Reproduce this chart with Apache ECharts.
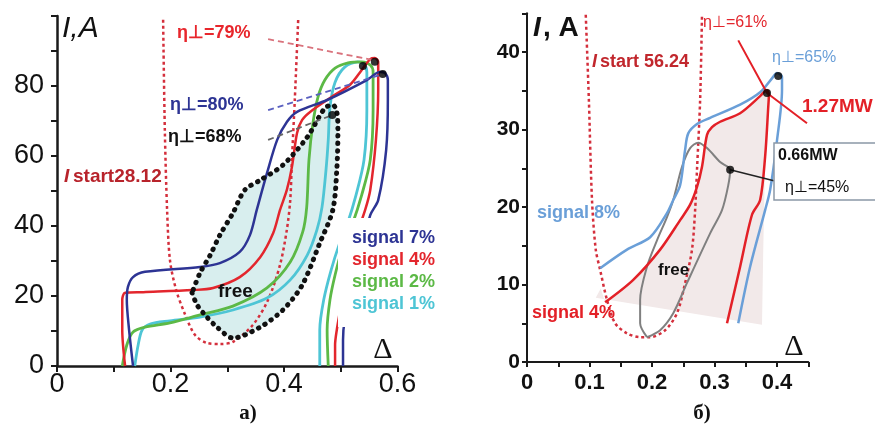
<!DOCTYPE html>
<html><head><meta charset="utf-8">
<script src="https://cdn.jsdelivr.net/npm/echarts@6/dist/echarts.min.js"></script>
<style>html,body{margin:0;padding:0;background:#fff}#c{width:875px;height:428px}</style>
</head><body><div id="c"></div>
<script>
// ---------- Panel a) ----------
const aXTickLabels = ['0', '0.2', '0.4', '0.6'];
const aYTickLabels = ['0', '20', '40', '60', '80'];
const aIstart = [[0.187,98.9],[0.190,67.4],[0.194,44.6],[0.199,30.3],[0.210,21.7],[0.226,14.6],[0.243,8.9],[0.264,6.6],[0.287,6.3],[0.310,6.9],[0.345,11.7],[0.372,18.9],[0.393,28.9],[0.405,38.9],[0.411,47.4],[0.414,58.9],[0.419,76],[0.425,98.9]];
const aSignal7 = [[0.134,0],[0.127,10.3],[0.123,18.9],[0.125,22.6],[0.134,25.4],[0.155,26.9],[0.252,28.3],[0.287,29.4],[0.322,32.6],[0.340,37.4],[0.352,44.6],[0.370,55.1],[0.388,64.6],[0.405,69.7],[0.423,72.6],[0.476,76.0],[0.546,81.7],[0.569,84.0],[0.578,83.7],[0.583,81.7],[0.583,76.0],[0.580,61.7],[0.566,47.4],[0.552,43.1],[0.537,33.1],[0.520,21.7],[0.507,13.1],[0.504,7.4],[0.504,0]];
const aSignal4 = [[0.120,0],[0.115,10.3],[0.115,18.9],[0.120,20.9],[0.152,21.1],[0.240,21.7],[0.275,22.3],[0.322,25.4],[0.358,31.1],[0.381,38.0],[0.393,44.6],[0.405,50.3],[0.414,56.9],[0.423,66.6],[0.432,70.3],[0.446,72.6],[0.486,77.1],[0.516,80.3],[0.537,84.6],[0.552,87.7],[0.560,88.0],[0.566,86.9],[0.566,78.9],[0.562,64.6],[0.552,50.3],[0.543,44.6],[0.525,36.0],[0.511,27.4],[0.499,16.0],[0.493,10.3],[0.490,6.0],[0.490,0]];
const aSignal2 = [[0.115,0],[0.123,6.0],[0.134,9.7],[0.155,11.1],[0.199,12.3],[0.252,14.6],[0.310,17.1],[0.370,22.3],[0.411,29.7],[0.433,38.3],[0.440,45.4],[0.444,58.9],[0.451,69.4],[0.460,76.9],[0.472,81.7],[0.490,85.1],[0.513,86.6],[0.537,86.9],[0.552,86.0],[0.557,84.0],[0.557,73.1],[0.552,58.9],[0.537,48.9],[0.520,40.3],[0.502,33.1],[0.490,26.0],[0.481,18.9],[0.476,10.3],[0.478,0]];
const aSignal1 = [[0.137,0],[0.143,6.0],[0.150,10.3],[0.164,12.0],[0.199,12.9],[0.252,14.0],[0.310,16.0],[0.370,19.4],[0.411,24.6],[0.441,31.7],[0.458,38.9],[0.467,45.4],[0.474,56.0],[0.478,64.6],[0.481,74.0],[0.490,81.1],[0.507,85.4],[0.530,86.9],[0.541,86.3],[0.546,84.0],[0.546,73.1],[0.541,58.9],[0.527,48.9],[0.511,40.3],[0.497,34.6],[0.483,27.4],[0.470,18.9],[0.463,10.3],[0.463,0]];
const aFree = [[0.238,20.9],[0.247,17.4],[0.264,14.0],[0.282,11.1],[0.310,8.0],[0.358,11.1],[0.398,16.0],[0.432,23.1],[0.463,35.1],[0.486,44.6],[0.493,56],[0.495,67.4],[0.493,72.6],[0.486,74.6],[0.472,73.7],[0.441,65.4],[0.398,57.4],[0.358,53.1],[0.331,50.3],[0.310,43.7],[0.287,37.4],[0.270,31.7],[0.252,26.6],[0.238,20.9]];
const aPtr79 = [[0.372,93.4],[0.557,87.4]];
const aPtr80 = [[0.372,73.1],[0.574,83.4]];
const aPtr68 = [[0.372,64.6],[0.485,71.7]];
const aDots = [[0.539,85.7],[0.560,86.9],[0.574,83.4],[0.485,71.7]];

// ---------- Panel б) ----------
const bXTickLabels = ['0', '0.1', '0.2', '0.3', '0.4'];
const bYTickLabels = ['0', '10', '20', '30', '40'];
const bIstart = [[0.094,44.8],[0.099,33.8],[0.104,20.9],[0.110,14.5],[0.117,11.9],[0.128,8.0],[0.141,5.0],[0.160,3.7],[0.181,3.2],[0.197,3.2],[0.221,4.1],[0.240,6.3],[0.253,10.2],[0.264,14.5],[0.269,19.6],[0.272,24.8],[0.277,33.8],[0.280,44.8]];
const bSignal8 = [[0.117,12.1],[0.160,14.5],[0.197,16.1],[0.224,19.2],[0.234,20.9],[0.245,22.8],[0.253,27.4],[0.258,29.5],[0.272,30.7],[0.293,31.5],[0.341,33.2],[0.373,34.8],[0.392,36.6],[0.400,37.3],[0.408,36.8],[0.408,35.1],[0.400,28.6],[0.389,22.2],[0.381,19.6],[0.357,12.3],[0.338,5.0]];
const bSignal4 = [[0.125,7.7],[0.170,10.6],[0.213,14.5],[0.245,18.3],[0.261,20.3],[0.272,22.6],[0.280,25.2],[0.288,29.3],[0.296,30.3],[0.309,31.0],[0.341,32.1],[0.373,34.3],[0.384,35.1],[0.387,34.5],[0.386,32.9],[0.381,26.5],[0.373,20.9],[0.360,19.0],[0.341,12.3],[0.320,5.0]];
const bFree = [[0.192,3.2],[0.213,4.1],[0.234,6.3],[0.256,10.2],[0.293,16.6],[0.312,19.6],[0.322,22.8],[0.325,24.8],[0.309,25.8],[0.288,27.6],[0.274,28.3],[0.261,27.6],[0.248,25.2],[0.234,20.9],[0.224,18.7],[0.208,15.7],[0.192,12.3],[0.181,8.0],[0.181,5.0],[0.192,3.2]];
const bShade = [[0.118,9.5],[0.125,7.7],[0.170,10.6],[0.213,14.5],[0.245,18.3],[0.261,20.3],[0.272,22.6],[0.280,25.2],[0.288,29.3],[0.296,30.3],[0.309,31.0],[0.341,32.1],[0.373,34.3],[0.384,35.1],[0.387,34.5],[0.381,26.5],[0.378,14.5],[0.376,4.8],[0.110,8.3]];
const bPtrRed = [[0.338,41.5],[0.384,34.7],[0.448,30.8]];
const bPtrBlack = [[0.325,24.8],[0.395,23.4]];
const bDots = [[0.384,34.7],[0.402,36.9],[0.325,24.8]];

const NARROW = '"Liberation Sans Narrow", "Liberation Sans", Arial, sans-serif';
const SANS = '"Liberation Sans", Arial, sans-serif';
const SERIF = '"Liberation Serif", "DejaVu Serif", serif';

function lbl(list, step) {
  return function (v) {
    const k = Math.round(v / step);
    if (k % 2 !== 0) return '';
    return list[k / 2] !== undefined ? list[k / 2] : '';
  };
}

function line(xi, data, color, width, type, extra) {
  return Object.assign({
    type: 'line', xAxisIndex: xi, yAxisIndex: xi, data: data,
    showSymbol: false, symbol: 'none', smooth: 0.3, silent: true, clip: false,
    lineStyle: { color: color, width: width, type: type || 'solid' }
  }, extra || {});
}
function poly(xi, pts, fill, smooth) {
  return {
    type: 'custom', xAxisIndex: xi, yAxisIndex: xi, data: [[0, 0]], silent: true, z: 1,
    renderItem: function (params, api) {
      return { type: 'polygon', shape: { points: pts.map(function (p) { return api.coord(p); }), smooth: smooth }, style: { fill: fill } };
    }
  };
}
function dots(xi, data) {
  return { type: 'scatter', xAxisIndex: xi, yAxisIndex: xi, data: data, symbolSize: 8, itemStyle: { color: '#000' }, silent: true, z: 5 };
}
function txt(x, y, text, font, fill, align) {
  return { type: 'text', x: x, y: y, z: 100, silent: true, style: { text: text, font: font, fill: fill, align: align || 'left', verticalAlign: 'middle' } };
}

const chart = echarts.init(document.getElementById('c'), null, { renderer: 'canvas' });
chart.setOption({
  animation: false,
  backgroundColor: '#fff',
  grid: [
    { left: 57, top: 16, width: 340.5, height: 350 },
    { left: 527, top: 13.25, width: 281.25, height: 348.75 }
  ],
  xAxis: [
    { gridIndex: 0, type: 'value', min: 0, max: 0.6, interval: 0.1,
      axisLine: { lineStyle: { color: '#1a1a1a', width: 2.5 } },
      axisTick: { length: 6, lineStyle: { color: '#1a1a1a', width: 2 } },
      splitLine: { show: false },
      axisLabel: { formatter: lbl(aXTickLabels, 0.1), fontSize: 27, fontFamily: NARROW, color: '#111', margin: 5 } },
    { gridIndex: 1, type: 'value', min: 0, max: 0.45, interval: 0.05,
      axisLine: { lineStyle: { color: '#1a1a1a', width: 2 } },
      axisTick: { length: 5, lineStyle: { color: '#1a1a1a', width: 2 } },
      splitLine: { show: false },
      axisLabel: { formatter: lbl(bXTickLabels, 0.05), fontSize: 22, fontWeight: 'bold', fontFamily: NARROW, color: '#111', margin: 10 } }
  ],
  yAxis: [
    { gridIndex: 0, type: 'value', min: 0, max: 100, interval: 10,
      axisLine: { show: true, lineStyle: { color: '#1a1a1a', width: 2.5 } },
      axisTick: { show: true, length: 6, lineStyle: { color: '#1a1a1a', width: 2 } },
      splitLine: { show: false },
      axisLabel: { formatter: lbl(aYTickLabels, 10), fontSize: 27, fontFamily: NARROW, color: '#111', margin: 13 } },
    { gridIndex: 1, type: 'value', min: 0, max: 45, interval: 5,
      axisLine: { show: true, lineStyle: { color: '#1a1a1a', width: 2 } },
      axisTick: { show: true, length: 5, lineStyle: { color: '#1a1a1a', width: 2 } },
      splitLine: { show: false },
      axisLabel: { formatter: lbl(bYTickLabels, 5), fontSize: 21, fontWeight: 'bold', fontFamily: NARROW, color: '#111', margin: 7 } }
  ],
  series: [
    poly(0, aFree, '#d8eeee', 0.3),
    line(0, aIstart, '#d42f3c', 2.5, [3, 3]),
    line(0, aSignal1, '#4ec5d5', 2.8),
    line(0, aSignal2, '#5cb946', 2.8),
    line(0, aSignal4, '#e3262d', 2.5),
    line(0, aSignal7, '#2d3494', 2.5),
    line(0, aFree, '#111', 5, [0.5, 7], { lineStyle: { color: '#111', width: 5, type: [0.5, 7], cap: 'round' } }),
    line(0, aPtr79, '#d9727c', 1.8, [6, 4], { smooth: false }),
    line(0, aPtr80, '#5a60c0', 1.8, [6, 4], { smooth: false }),
    line(0, aPtr68, '#666', 1.8, [6, 4], { smooth: false }),
    dots(0, aDots),

    poly(1, bShade, '#f2e9e9', 0),
    line(1, bIstart, '#d42f3c', 2.5, [3, 3]),
    line(1, bFree, '#808080', 2),
    line(1, bSignal8, '#6a9fd8', 2.5),
    line(1, bSignal4, '#e32027', 2.5),
    line(1, bPtrRed, '#e32027', 2, 'solid', { smooth: false }),
    line(1, bPtrBlack, '#222', 1.5, 'solid', { smooth: false }),
    dots(1, bDots)
  ],
  graphic: [
    // panel a) annotations
    txt(62, 29, 'I,A', 'italic 30px ' + SANS, '#111'),
    txt(177, 33, 'η⊥=79%', 'bold 18px ' + SANS, '#e8262c'),
    txt(170, 105, 'η⊥=80%', 'bold 18px ' + SANS, '#2d3494'),
    txt(168, 137, 'η⊥=68%', 'bold 18px ' + SANS, '#111'),
    txt(64, 177, 'I', 'italic bold 19px ' + SANS, '#b8232b'),
    txt(73, 177, 'start28.12', 'bold 19px ' + SANS, '#b8232b'),
    txt(218, 292, 'free', 'bold 19px ' + SANS, '#111'),
    { type: 'rect', z: 99, silent: true, shape: { x: 338, y: 218, width: 102, height: 109 }, style: { fill: '#fff' } },
    txt(352, 238, 'signal 7%', 'bold 18px ' + SANS, '#2d3494'),
    txt(352, 260, 'signal 4%', 'bold 18px ' + SANS, '#e3262d'),
    txt(352, 282, 'signal 2%', 'bold 18px ' + SANS, '#5cb946'),
    txt(352, 304, 'signal 1%', 'bold 18px ' + SANS, '#4ec5d5'),
    txt(383, 350, 'Δ', '30px ' + SERIF, '#111', 'center'),
    txt(248, 414, 'а)', 'bold 21px ' + SERIF, '#111', 'center'),
    // panel б) annotations
    txt(533, 28, 'I', 'italic bold 28px ' + NARROW, '#111'),
    txt(543, 28, ', A', 'bold 28px ' + NARROW, '#111'),
    txt(592, 62, 'I', 'italic bold 18px ' + SANS, '#c1272d'),
    txt(600, 62, 'start 56.24', 'bold 18px ' + SANS, '#c1272d'),
    txt(703, 23, 'η⊥=61%', '16px ' + SANS, '#e3262d'),
    txt(772, 58, 'η⊥=65%', '16px ' + SANS, '#6a9fd8'),
    txt(802, 107, '1.27MW', 'bold 19px ' + SANS, '#e32027'),
    { type: 'rect', z: 99, silent: true, shape: { x: 774, y: 143, width: 110, height: 57 }, style: { fill: '#fff', stroke: '#8a98a6', lineWidth: 1.5 } },
    txt(778, 156, '0.66MW', 'bold 16px ' + SANS, '#111'),
    txt(785, 188, 'η⊥=45%', '16px ' + SANS, '#111'),
    txt(537, 213, 'signal 8%', 'bold 18px ' + SANS, '#6a9fd8'),
    txt(532, 313, 'signal 4%', 'bold 18px ' + SANS, '#e32027'),
    txt(658, 270, 'free', 'bold 17px ' + SANS, '#111'),
    txt(794, 347, 'Δ', '30px ' + SERIF, '#111', 'center'),
    txt(702, 414, 'б)', 'bold 21px ' + SERIF, '#111', 'center')
  ]
});
</script>
</body></html>
